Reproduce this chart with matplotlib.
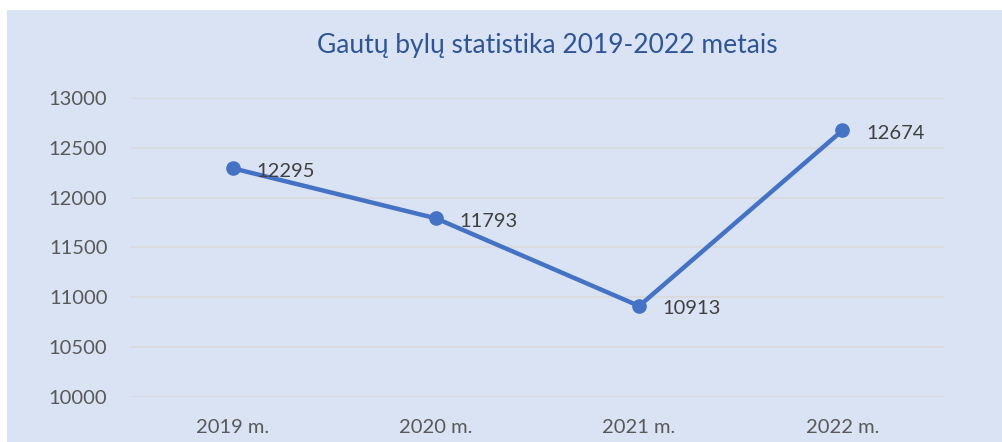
import matplotlib.pyplot as plt
from matplotlib.patches import Rectangle

years = ["2019 m.", "2020 m.", "2021 m.", "2022 m."]
cases = [12295, 11793, 10913, 12674]
yticks = [10000, 10500, 11000, 11500, 12000, 12500, 13000]

bg = "#DAE3F3"
line_color = "#4472C4"

plt.rcParams['font.family'] = ['Lato', 'DejaVu Sans']

fig = plt.figure(figsize=(10.02, 4.42), dpi=100)
fig.patch.set_facecolor("white")
# chart area background, behind the axes
fig.patches.append(Rectangle((7 / 1002, 0), 1 - 7 / 1002, 1 - 10 / 442,
                             transform=fig.transFigure, facecolor=bg,
                             edgecolor="none", zorder=-10))

ax = fig.add_axes([131 / 1002, 1 - 397 / 442, 813 / 1002, 299 / 442])
ax.set_zorder(1)
ax.patch.set_alpha(0)

x = range(len(years))
ax.plot(x, cases, color=line_color, linewidth=3.2, marker="o",
        markersize=9.5, zorder=3, solid_capstyle="round")
for xi, v in zip(x, cases):
    ax.annotate(str(v), (xi, v), xytext=(17, -2), textcoords="offset points",
                ha="left", va="center", fontsize=14.5, color="#404040")

ax.set_xlim(-0.5, len(years) - 0.5)
ax.set_ylim(10000, 13000)
ax.set_yticks(yticks)
ax.set_yticklabels([str(t) for t in yticks])
ax.set_xticks(list(x))
ax.set_xticklabels(years)
ax.tick_params(length=0, labelsize=14.5, labelcolor="#595959")
ax.tick_params(axis="y", pad=17)
ax.tick_params(axis="x", pad=16)
ax.grid(axis="y", color="#D9D9D9", linewidth=1.2)
ax.set_axisbelow(True)
for s in ax.spines.values():
    s.set_visible(False)

fig.text(547 / 1002, 1 - 45 / 442, "Gautų bylų statistika 2019-2022 metais",
         ha="center", va="center", fontsize=19, color="#2F5597")

fig.savefig("out.png", dpi=100, facecolor=fig.get_facecolor())
